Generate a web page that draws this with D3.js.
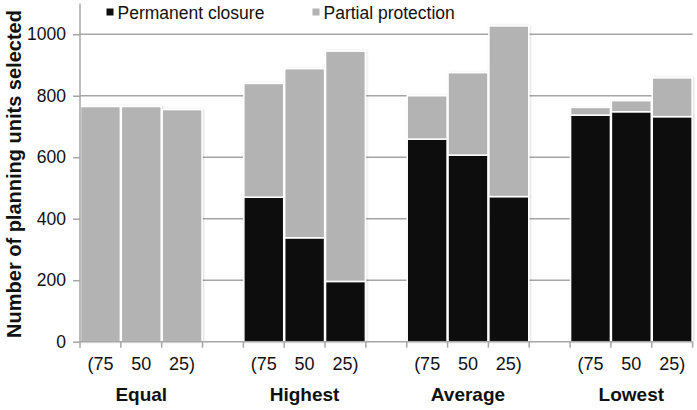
<!DOCTYPE html>
<html><head><meta charset="utf-8">
<script src="https://cdn.jsdelivr.net/npm/d3@7"></script>
<style>body{margin:0;background:#fff}svg{display:block;font-family:"Liberation Sans",Arial,sans-serif}</style>
</head><body>
<svg id="c" width="697" height="410"></svg>
<script>
const groups = ["Equal","Highest","Average","Lowest"];
const levels = ["(75","50","25)"];
const permanent = [0,0,0, 470,338,196, 659,607,472, 737,748,732];
const partial = [765,765,755, 370,550,749, 141,268,555, 25,36,126];
const yTicks = [0,200,400,600,800,1000];
const seriesNames = ["Permanent closure","Partial protection"];
const colors = ["#0d0d0d","#b3b3b3"];

const svg = d3.select("#c");
const x0 = 80, x1 = 692.6, yTop = 3.5, yBot = 341.7;
const slots = d3.range(15);
const x = d3.scaleBand().domain(slots).range([x0,x1]).padding(0);
const y = d3.scaleLinear().domain([0,1100]).range([yBot,yTop]);

const rows = [];
groups.forEach((g,gi)=>levels.forEach((l,li)=>{
  const k = gi*3+li;
  rows.push({slot: gi*4+li, group:g, level:l, perm: permanent[k], part: partial[k]});
}));

// gridlines
svg.append("g").selectAll("line").data(yTicks.filter(d=>d>0)).join("line")
  .attr("x1",x0).attr("x2",x1).attr("y1",d=>y(d)).attr("y2",d=>y(d))
  .attr("stroke","#a6a6a6").attr("stroke-width",1.5);

// bars
const stack = d3.stack().keys(["perm","part"])(rows);
const defs = svg.append("defs");
const f = defs.append("filter").attr("id","sh").attr("x","-10%").attr("y","-10%").attr("width","130%").attr("height","130%");
f.append("feDropShadow").attr("dx",1).attr("dy",0).attr("stdDeviation",1).attr("flood-color","#000").attr("flood-opacity",0.15);
const bars = svg.append("g");
stack.forEach((s,si)=>{
  bars.append("g").selectAll("rect").data(s.filter(d=>d[1]-d[0]>0)).join("rect")
    .attr("x",d=>x(d.data.slot)+0.5).attr("width",x.bandwidth()-1)
    .attr("y",d=>y(d[1])).attr("height",d=>y(d[0])-y(d[1]))
    .attr("fill",colors[si]).attr("stroke","#fff").attr("stroke-width",1.5)
    .attr("filter","url(#sh)");
});

// y axis
const ya = svg.append("g").attr("transform",`translate(${x0},0)`)
  .call(d3.axisLeft(y).tickValues(yTicks).tickFormat(d3.format("d")).tickSize(7).tickPadding(7));
ya.select(".domain").attr("stroke","#a6a6a6").attr("stroke-width",1.5).attr("d",`M0,${yTop}V${yBot}`);
ya.selectAll(".tick line").attr("stroke","#a6a6a6").attr("stroke-width",1.5);
ya.selectAll("text").attr("font-size",17.5).attr("fill","#111").attr("font-family","Liberation Sans, Arial, sans-serif");

// x axis
svg.append("line").attr("x1",x0).attr("x2",x1).attr("y1",yBot).attr("y2",yBot)
  .attr("stroke","#a6a6a6").attr("stroke-width",1.5);
svg.append("g").selectAll("line").data(d3.range(16)).join("line")
  .attr("x1",d=>x0+d*x.step()).attr("x2",d=>x0+d*x.step())
  .attr("y1",yBot).attr("y2",yBot+6).attr("stroke","#a6a6a6").attr("stroke-width",1.5);

svg.append("g").selectAll("text").data(rows).join("text")
  .attr("x",d=>x(d.slot)+x.bandwidth()/2).attr("y",370)
  .attr("text-anchor","middle").attr("font-size",18).attr("fill","#111")
  .text(d=>d.level);
svg.append("g").selectAll("text").data(groups).join("text")
  .attr("x",(d,i)=>x(i*4+1)+x.bandwidth()/2).attr("y",401)
  .attr("text-anchor","middle").attr("font-size",19).attr("font-weight","bold").attr("fill","#111")
  .text(d=>d);

// y title
svg.append("text").attr("transform",`translate(21,174) rotate(-90)`)
  .attr("text-anchor","middle").attr("font-size",20).attr("font-weight","bold").attr("fill","#111")
  .text("Number of planning units selected");

// legend
const legX = [106.5, 312.5];
seriesNames.forEach((n,i)=>{
  svg.append("rect").attr("x",legX[i]).attr("y",8.5).attr("width",7).attr("height",7).attr("fill",colors[i]);
  svg.append("text").attr("x",legX[i]+11).attr("y",19).attr("font-size",17.5).attr("fill","#111").text(n);
});
</script>
</body></html>
